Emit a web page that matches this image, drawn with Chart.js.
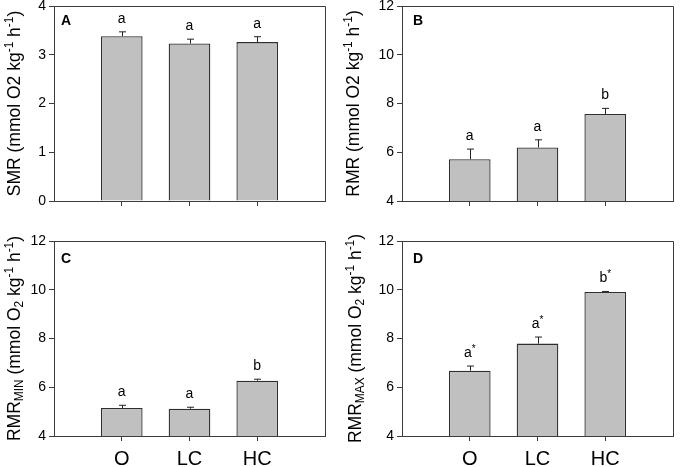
<!DOCTYPE html>
<html><head><meta charset="utf-8">
<script src="https://cdn.jsdelivr.net/npm/chart.js@4"></script>
<style>
html,body{margin:0;padding:0;background:#fff;}
#wrap{position:relative;width:680px;height:467px;overflow:hidden;}
.p{position:absolute;}
</style></head><body>
<div id="wrap">
<div class="p" style="left:0;top:0;width:340px;height:230px"><canvas id="cA"></canvas></div>
<div class="p" style="left:340px;top:0;width:340px;height:230px"><canvas id="cB"></canvas></div>
<div class="p" style="left:0;top:230px;width:340px;height:237px"><canvas id="cC"></canvas></div>
<div class="p" style="left:340px;top:230px;width:340px;height:237px"><canvas id="cD"></canvas></div>
</div>
<script>
const categories = ['O', 'LC', 'HC'];
const smr = [3.38, 3.23, 3.26];
const smrSE = [0.09, 0.09, 0.11];
const smrLetters = ['a', 'a', 'a'];
const rmr = [5.71, 6.20, 7.57];
const rmrSE = [0.42, 0.31, 0.23];
const rmrLetters = ['a', 'a', 'b'];
const rmrMin = [5.15, 5.12, 6.27];
const rmrMinSE = [0.11, 0.06, 0.06];
const rmrMinLetters = ['a', 'a', 'b'];
const rmrMax = [6.68, 7.79, 9.91];
const rmrMaxSE = [0.19, 0.27, 0.02];
const rmrMaxLetters = ['a*', 'a*', 'b*'];
const smrAxis = [0, 4, 1];   // min, max, step
const rmrAxis = [4, 12, 2];

const FF = '"Liberation Sans", Arial, sans-serif';
const AX = '#3c3c3c';

function drawRich(ctx, parts, cx, cy, size) {
  ctx.save();
  ctx.translate(cx, cy);
  ctx.rotate(-Math.PI / 2);
  ctx.fillStyle = '#000';
  ctx.textBaseline = 'alphabetic';
  ctx.textAlign = 'left';
  const fs = p => (p.k ? size * 0.68 : size);
  let total = 0;
  parts.forEach(p => { ctx.font = fs(p) + 'px ' + FF; total += ctx.measureText(p.t).width; });
  let x = -total / 2;
  const base = size * 0.36;
  parts.forEach(p => {
    ctx.font = fs(p) + 'px ' + FF;
    let dy = 0;
    if (p.k === 'sup') dy = -size * 0.4;
    if (p.k === 'sub') dy = size * 0.18;
    ctx.fillText(p.t, x, base + dy);
    x += ctx.measureText(p.t).width;
  });
  ctx.restore();
}

const deco = {
  id: 'deco',
  afterDatasetsDraw(chart) {
    const o = chart.options.plugins.deco;
    const ctx = chart.ctx, ca = chart.chartArea, y = chart.scales.y;
    const meta = chart.getDatasetMeta(0);
    ctx.save();
    ctx.strokeStyle = AX; ctx.lineWidth = 1;
    ctx.beginPath();
    ctx.moveTo(ca.left, ca.top + 0.5); ctx.lineTo(ca.right + 0.5, ca.top + 0.5); ctx.lineTo(ca.right + 0.5, ca.bottom);
    ctx.stroke();
    meta.data.forEach((bar, i) => {
      const v = o.values[i], e = o.err[i];
      const yt = y.getPixelForValue(v), yc = y.getPixelForValue(v + e);
      const xc = Math.round(bar.x) + 0.5;
      ctx.strokeStyle = '#222'; ctx.lineWidth = 1;
      ctx.beginPath();
      ctx.moveTo(xc, yt); ctx.lineTo(xc, yc);
      ctx.moveTo(xc - 3.5, yc); ctx.lineTo(xc + 3.5, yc);
      ctx.stroke();
      ctx.fillStyle = '#000';
      ctx.font = '14px ' + FF;
      ctx.textAlign = 'center'; ctx.textBaseline = 'alphabetic';
      const t = o.letters[i];
      if (t.endsWith('*')) {
        const base = t.slice(0, -1);
        const w1 = ctx.measureText(base).width;
        ctx.font = '10px ' + FF;
        const w2 = ctx.measureText('*').width;
        const x0 = bar.x - (w1 + w2) / 2;
        ctx.textAlign = 'left';
        ctx.font = '14px ' + FF;
        ctx.fillText(base, x0, yc - 9);
        ctx.font = '10px ' + FF;
        ctx.fillText('*', x0 + w1, yc - 14);
      } else {
        ctx.fillText(t, bar.x, yc - 9);
      }
    });
    ctx.font = 'bold 14px ' + FF;
    ctx.textAlign = 'left'; ctx.textBaseline = 'alphabetic';
    ctx.fillStyle = '#000';
    ctx.fillText(o.panel, ca.left + o.px, ca.top + o.py);
    drawRich(ctx, o.title, o.tx, (ca.top + ca.bottom) / 2, 17.5);
    ctx.restore();
  }
};

function make(id, values, err, letters, axis, panel, title, yw, padR, padT, xh, showX, px, py, tx) {
  new Chart(document.getElementById(id), {
    type: 'bar',
    data: {
      datasets: [{
        data: values.map((v, i) => ({ x: i + 1, y: v })),
        backgroundColor: '#c0c0c0',
        borderColor: '#2e2e2e',
        borderWidth: 1.3,
        categoryPercentage: 1,
        barPercentage: 0.615
      }]
    },
    options: {
      responsive: true, maintainAspectRatio: false, animation: false,
      devicePixelRatio: 1,
      layout: { padding: { left: 0, right: padR, top: padT, bottom: 0 } },
      plugins: {
        legend: { display: false }, tooltip: { enabled: false },
        deco: { values, err, letters, panel, title, px, py, tx }
      },
      scales: {
        x: {
          type: 'linear', min: 0, max: 4, offset: false,
          ticks: {
            stepSize: 1, display: showX, color: '#000', padding: 6,
            font: { family: FF, size: 20 },
            callback: v => categories[v - 1] || ''
          },
          afterBuildTicks: s => { s.ticks = s.ticks.filter(t => t.value >= 1 && t.value <= 3); },
          afterFit: s => { s.height = xh; s.paddingLeft = 0; s.paddingRight = 0; },
          grid: { offset: false, drawOnChartArea: false, drawTicks: true, tickLength: 5, color: AX },
          border: { color: AX, width: 1 }
        },
        y: {
          min: axis[0], max: axis[1],
          ticks: { stepSize: axis[2], color: '#000', padding: 3, font: { family: FF, size: 14 } },
          afterFit: s => { s.width = yw; s.paddingTop = 0; s.paddingBottom = 0; },
          grid: { drawOnChartArea: false, drawTicks: true, tickLength: 5, color: AX },
          border: { color: AX, width: 1 }
        }
      }
    },
    plugins: [deco]
  });
}

const tAB = name => [{ t: name + ' (mmol O2 kg' }, { t: '-1', k: 'sup' }, { t: ' h' }, { t: '-1', k: 'sup' }, { t: ')' }];
const tCD = sub => [{ t: 'RMR' }, { t: sub, k: 'sub' }, { t: ' (mmol O' }, { t: '2', k: 'sub' }, { t: ' kg' }, { t: '-1', k: 'sup' }, { t: ' h' }, { t: '-1', k: 'sup' }, { t: ')' }];

make('cA', smr, smrSE, smrLetters, smrAxis, 'A', tAB('SMR'), 54, 15, 6, 29, false, 7, 19, 14);
make('cB', rmr, rmrSE, rmrLetters, rmrAxis, 'B', tAB('RMR'), 62, 7, 6, 29, false, 11, 19, 13);
make('cC', rmrMin, rmrMinSE, rmrMinLetters, rmrAxis, 'C', tCD('MIN'), 54, 15, 11, 31, true, 7, 22, 14);
make('cD', rmrMax, rmrMaxSE, rmrMaxLetters, rmrAxis, 'D', tCD('MAX'), 62, 7, 11, 31, true, 11, 22, 15);
</script>
</body></html>
